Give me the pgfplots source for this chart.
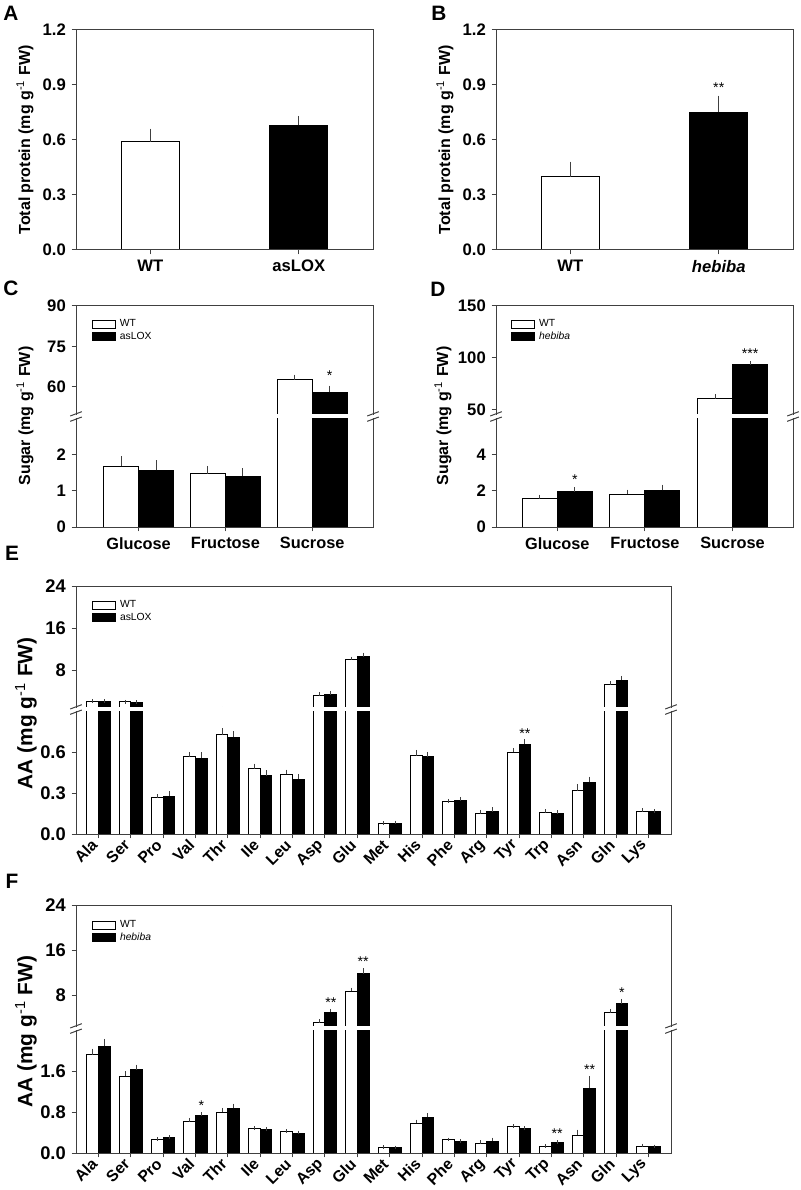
\documentclass[border=0pt]{standalone}
\usepackage{fontspec}
\setmainfont{Liberation Sans}
\usepackage{pgfplots}
\usepackage{pgfplotstable}
\pgfplotsset{compat=1.18}
\definecolor{axc}{gray}{0.25}

\pgfplotstableread{
x wt wte mu mue
1 2.15 0.08 2.10 0.08
2 2.05 0.04 2.00 0.04
3 0.264 0.012 0.278 0.020
4 0.564 0.024 0.556 0.027
5 0.726 0.036 0.709 0.030
6 0.479 0.022 0.428 0.024
7 0.436 0.021 0.401 0.022
8 3.36 0.14 3.50 0.20
9 10.0 0.30 10.6 0.45
10 0.075 0.005 0.080 0.004
11 0.572 0.030 0.564 0.024
12 0.236 0.007 0.245 0.014
13 0.150 0.014 0.164 0.020
14 0.598 0.019 0.656 0.024
15 0.160 0.008 0.152 0.008
16 0.318 0.036 0.377 0.030
17 5.40 0.20 6.20 0.45
18 0.164 0.010 0.162 0.005
}\tabE

\pgfplotstableread{
x wt wte mu mue
1 1.92 0.08 2.08 0.11
2 1.495 0.065 1.62 0.07
3 0.254 0.015 0.300 0.012
4 0.624 0.026 0.730 0.030
5 0.800 0.045 0.870 0.060
6 0.480 0.010 0.455 0.012
7 0.416 0.012 0.390 0.010
8 3.16 0.25 5.00 0.30
9 8.72 0.35 11.84 0.65
10 0.110 0.010 0.100 0.010
11 0.585 0.030 0.695 0.045
12 0.254 0.012 0.227 0.010
13 0.190 0.020 0.230 0.035
14 0.513 0.015 0.470 0.015
15 0.130 0.010 0.200 0.010
16 0.350 0.070 1.260 0.210
17 5.05 0.24 6.52 0.53
18 0.136 0.010 0.120 0.010
}\tabF

\pgfplotsset{
  common/.style={
    scale only axis, anchor=south west,
    axis line style={draw=none},
    tick align=outside, tick pos=left,
    major tick length=2.6pt,
    tick style={axc, line width=0.6pt},
    /pgf/number format/assume math mode=true,
    ticklabel style={font=\bfseries\fontsize{10}{11}\selectfont},
    ybar,
  },
  errs/.style={error bars/y dir=plus, error bars/y explicit,
    error bars/error bar style={axc, line width=0.6pt},
    error bars/error mark options={axc, line width=0.6pt, mark size=#1}},
  wt/.style={fill=white, draw=black, line width=0.6pt, bar shift=#1},
  mu/.style={fill=black, draw=black, line width=0.6pt, bar shift=#1},
  leg/.style={legend cell align=left,
    legend style={at={#1}, anchor=north west, draw=none, fill=none,
    font=\fontsize{6.2}{7}\selectfont, row sep=0.4pt, column sep=1.6pt,
    nodes={inner sep=0.6pt}},
    legend image code/.code={\draw[##1, line width=0.6pt] (0pt,-2.4pt) rectangle (13.8pt,2.4pt);}},
  onedec/.style={yticklabel style={/pgf/number format/.cd, fixed, fixed zerofill, precision=1}},
  aalabels/.style={xtick={1,...,18},
    xticklabels={Ala,Ser,Pro,Val,Thr,Ile,Leu,Asp,Glu,Met,His,Phe,Arg,Tyr,Trp,Asn,Gln,Lys},
    xticklabel style={rotate=45, anchor=east, font=\bfseries\fontsize{9.5}{10}\selectfont}},
}
\tikzset{frame/.style={axc, line width=0.6pt},
  ast/.style={font=\fontsize{8.5}{9}\selectfont, yshift=-1.7pt}}

\newcommand{\brk}[2]{%
  \fill[white] ([yshift=-0.2pt]#1.north west) rectangle ([yshift=0.55pt]#2.south east);
  \draw[frame] (#2.south west) -- (#2.north west) -- (#2.north east) -- (#2.south east);
  \draw[frame] (#1.north west) -- (#1.south west) -- (#1.south east) -- (#1.north east);
  \foreach \a in {west, east} {
    \draw[frame] ([shift={(-3.5pt,-2pt)}]#1.north \a) -- ++(7pt,2.6pt);
    \draw[frame] ([shift={(-3.5pt,-0.6pt)}]#2.south \a) -- ++(7pt,2.6pt);
  }}

\begin{document}
\begin{tikzpicture}
\useasboundingbox (0,0) rectangle (480pt,-714pt);

% ---------- A ----------
\begin{axis}[common, name=A, at={(45.6pt,-150pt)}, width=178.2pt, height=132pt,
  xmin=0.5, xmax=2.5, ymin=0, ymax=1.2, ytick={0,0.3,0.6,0.9,1.2}, onedec,
  xtick={1,2}, xticklabels={WT, asLOX}, bar width=34.8pt,
  xticklabel style={font=\bfseries\fontsize{10}{11}\selectfont}]
\addplot[wt=0pt, errs=1.3pt] coordinates {(1,0.59) +- (0,0.06)};
\addplot[mu=0pt, errs=1.3pt] coordinates {(2,0.68) +- (0,0.04)};
\end{axis}
\draw[frame] (A.south west) rectangle (A.north east);

% ---------- B ----------
\begin{axis}[common, name=B, at={(297.6pt,-150pt)}, width=178.2pt, height=132pt,
  xmin=0.5, xmax=2.5, ymin=0, ymax=1.2, ytick={0,0.3,0.6,0.9,1.2}, onedec,
  xtick={1,2}, xticklabels={WT, \textit{hebiba}}, bar width=34.8pt,
  xticklabel style={font=\bfseries\fontsize{10}{11}\selectfont}]
\addplot[wt=0pt, errs=1.3pt] coordinates {(1,0.40) +- (0,0.07)};
\addplot[mu=0pt, errs=1.3pt] coordinates {(2,0.75) +- (0,0.08)};
\node[ast] at (axis cs:2,0.9) {**};
\end{axis}
\draw[frame] (B.south west) rectangle (B.north east);

% ---------- C ----------
\begin{axis}[common, name=Clo, at={(45.6pt,-316.2pt)}, width=178.2pt, height=65.4pt,
  xmin=0.28, xmax=3.7, ymin=0, ymax=3, ytick={0,1,2},
  xtick={1,2,3}, xticklabels={Glucose, Fructose, Sucrose}, bar width=21pt,
  xticklabel style={font=\bfseries\fontsize{9.8}{11}\selectfont}]
\addplot[wt=-10.5pt, errs=1.3pt] coordinates {(1,1.67) +- (0,0.22) (2,1.46) +- (0,0.16) (3,62.6) +- (0,1.1)};
\addplot[mu=10.5pt, errs=1.3pt] coordinates {(1,1.56) +- (0,0.22) (2,1.40) +- (0,0.16) (3,57.9) +- (0,1.7)};
\end{axis}
\begin{axis}[common, name=Cup, at={(45.6pt,-249pt)}, width=178.2pt, height=65.4pt,
  xmin=0.28, xmax=3.7, ymin=49.5, ymax=90, ytick={60,75,90},
  xtick=\empty, bar width=21pt, leg={(0.037,0.917)}]
\addplot[wt=-10.5pt, errs=1.3pt] coordinates {(1,1.67) +- (0,0.22) (2,1.46) +- (0,0.16) (3,62.6) +- (0,1.1)};
\addplot[mu=10.5pt, errs=1.3pt] coordinates {(1,1.56) +- (0,0.22) (2,1.40) +- (0,0.16) (3,57.9) +- (0,1.7)};
\legend{WT, asLOX}
\node[ast] at (axis cs:3.2,65.1) {*};
\end{axis}
\brk{Clo}{Cup}

% ---------- D ----------
\begin{axis}[common, name=Dlo, at={(297.6pt,-316.2pt)}, width=178.2pt, height=65.4pt,
  xmin=0.3, xmax=3.69, ymin=0, ymax=6, ytick={0,2,4},
  xtick={1,2,3}, xticklabels={Glucose, Fructose, Sucrose}, bar width=21pt,
  xticklabel style={font=\bfseries\fontsize{9.8}{11}\selectfont}]
\addplot[wt=-10.5pt, errs=1.3pt] coordinates {(1,1.57) +- (0,0.09) (2,1.79) +- (0,0.15) (3,60.7) +- (0,2.3)};
\addplot[mu=10.5pt, errs=1.3pt] coordinates {(1,1.94) +- (0,0.12) (2,2.01) +- (0,0.2) (3,93.6) +- (0,1.3)};
\node[ast] at (axis cs:1.2,2.75) {*};
\end{axis}
\begin{axis}[common, name=Dup, at={(297.6pt,-249pt)}, width=178.2pt, height=65.4pt,
  xmin=0.3, xmax=3.69, ymin=45, ymax=150, ytick={50,100,150},
  xtick=\empty, bar width=21pt, leg={(0.034,0.917)}]
\addplot[wt=-10.5pt, errs=1.3pt] coordinates {(1,1.57) +- (0,0.09) (2,1.79) +- (0,0.15) (3,60.7) +- (0,2.3)};
\addplot[mu=10.5pt, errs=1.3pt] coordinates {(1,1.94) +- (0,0.12) (2,2.01) +- (0,0.2) (3,93.6) +- (0,1.3)};
\legend{WT, \textit{hebiba}}
\node[ast] at (axis cs:3.2,106.9) {***};
\end{axis}
\brk{Dlo}{Dup}

% ---------- E ----------
\begin{axis}[common, name=Elo, at={(45.6pt,-500.4pt)}, width=357pt, height=73.8pt,
  xmin=0.3, xmax=18.7, ymin=0, ymax=0.9, ytick={0,0.3,0.6}, onedec,
  ticklabel style={font=\bfseries\fontsize{11}{12}\selectfont},
  aalabels, bar width=7pt]
\addplot[wt=-3.5pt, errs=1.1pt] table[x=x, y=wt, y error plus=wte] {\tabE};
\addplot[mu=3.5pt, errs=1.1pt] table[x=x, y=mu, y error plus=mue] {\tabE};
\node[ast] at (axis cs:14.18,0.756) {**};
\end{axis}
\begin{axis}[common, name=Eup, at={(45.6pt,-424.8pt)}, width=357pt, height=73.2pt,
  xmin=0.3, xmax=18.7, ymin=0.9, ymax=24, ytick={8,16,24},
  ticklabel style={font=\bfseries\fontsize{11}{12}\selectfont},
  xtick=\empty, bar width=7pt, leg={(0.0185,0.918)}]
\addplot[wt=-3.5pt, errs=1.1pt] table[x=x, y=wt, y error plus=wte] {\tabE};
\addplot[mu=3.5pt, errs=1.1pt] table[x=x, y=mu, y error plus=mue] {\tabE};
\legend{WT, asLOX}
\end{axis}
\brk{Elo}{Eup}

% ---------- F ----------
\begin{axis}[common, name=Flo, at={(45.6pt,-691.8pt)}, width=357pt, height=73.8pt,
  xmin=0.3, xmax=18.7, ymin=0, ymax=2.4, ytick={0,0.8,1.6}, onedec,
  ticklabel style={font=\bfseries\fontsize{11}{12}\selectfont},
  aalabels, bar width=7pt]
\addplot[wt=-3.5pt, errs=1.1pt] table[x=x, y=wt, y error plus=wte] {\tabF};
\addplot[mu=3.5pt, errs=1.1pt] table[x=x, y=mu, y error plus=mue] {\tabF};
\node[ast] at (axis cs:4.18,0.98) {*};
\node[ast] at (axis cs:15.18,0.43) {**};
\node[ast] at (axis cs:16.18,1.68) {**};
\end{axis}
\begin{axis}[common, name=Fup, at={(45.6pt,-616.2pt)}, width=357pt, height=73.2pt,
  xmin=0.3, xmax=18.7, ymin=2.4, ymax=24, ytick={8,16,24},
  ticklabel style={font=\bfseries\fontsize{11}{12}\selectfont},
  xtick=\empty, bar width=7pt, leg={(0.0185,0.91)}]
\addplot[wt=-3.5pt, errs=1.1pt] table[x=x, y=wt, y error plus=wte] {\tabF};
\addplot[mu=3.5pt, errs=1.1pt] table[x=x, y=mu, y error plus=mue] {\tabF};
\legend{WT, \textit{hebiba}}
\node[ast] at (axis cs:8.18,7.18) {**};
\node[ast] at (axis cs:9.18,14.39) {**};
\node[ast] at (axis cs:17.18,9.07) {*};
\end{axis}
\brk{Flo}{Fup}

% ---------- labels ----------
\begin{scope}[every node/.style={font=\bfseries\fontsize{12.5}{13}\selectfont}]
\node at (6.6pt,-7.8pt) {A};
\node at (263.4pt,-7.8pt) {B};
\node at (6.6pt,-172.8pt) {C};
\node at (262.8pt,-173.4pt) {D};
\node at (7.2pt,-331.8pt) {E};
\node at (7.2pt,-528.6pt) {F};
\end{scope}
\begin{scope}[every node/.style={rotate=90, font=\bfseries\fontsize{9.6}{10}\selectfont}]
\node at (15pt,-84pt) {Total protein (mg g\textsuperscript{\mdseries -1} FW)};
\node at (267pt,-84pt) {Total protein (mg g\textsuperscript{\mdseries -1} FW)};
\node at (15pt,-249.6pt) {Sugar (mg g\textsuperscript{\mdseries -1} FW)};
\node at (265.8pt,-249.6pt) {Sugar (mg g\textsuperscript{\mdseries -1} FW)};
\end{scope}
\begin{scope}[every node/.style={rotate=90, font=\bfseries\fontsize{12.5}{13}\selectfont}]
\node at (15.6pt,-428pt) {AA (mg g\textsuperscript{\mdseries -1} FW)};
\node at (15.6pt,-619pt) {AA (mg g\textsuperscript{\mdseries -1} FW)};
\end{scope}
\end{tikzpicture}
\end{document}
